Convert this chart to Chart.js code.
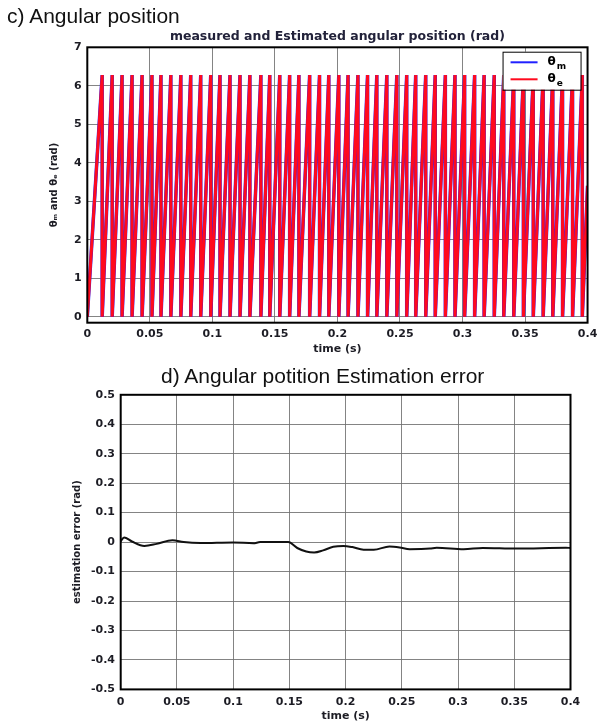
<!DOCTYPE html>
<html>
<head>
<meta charset="utf-8">
<script src="https://cdn.jsdelivr.net/npm/chart.js@4"></script>
<style>
  body{margin:0;background:#fff;width:602px;height:724px;position:relative;overflow:hidden;font-family:"Liberation Sans",Arial,sans-serif;}
  canvas{position:absolute;left:0;}
  #cTop{top:0}
  #cBot{top:360px}
  .panel{position:absolute;font-size:21px;line-height:21px;color:#111;white-space:nowrap;z-index:2}
</style>
</head>
<body>
<div class="panel" style="left:7px;top:5px">c) Angular position</div>
<canvas id="cTop" width="602" height="360"></canvas>
<div class="panel" style="left:161px;top:365px">d) Angular potition Estimation error</div>
<canvas id="cBot" width="602" height="364"></canvas>
<script>
const timeTicks = [0, 0.05, 0.1, 0.15, 0.2, 0.25, 0.3, 0.35, 0.4];
const thetaTicks = [0, 1, 2, 3, 4, 5, 6, 7];
const errTicks = [-0.5, -0.4, -0.3, -0.2, -0.1, 0, 0.1, 0.2, 0.3, 0.4, 0.5];

/* c) instants where the angle wraps from 2pi back to 0 (s) */
const wrapTimes = [0.0119, 0.0199, 0.0278, 0.0358, 0.0438, 0.0517, 0.0589, 0.0668, 0.0748, 0.0827,
  0.0907, 0.0987, 0.1061, 0.1141, 0.1221, 0.1300, 0.1388, 0.1459, 0.1539, 0.1618,
  0.1692, 0.1778, 0.1857, 0.1931, 0.2011, 0.2085, 0.2164, 0.2241, 0.2315, 0.2395,
  0.2475, 0.2554, 0.2626, 0.2706, 0.2782, 0.2863, 0.2940, 0.3017, 0.3097, 0.3173,
  0.3254, 0.3330, 0.3410, 0.3487, 0.3566, 0.3645, 0.3722, 0.3800, 0.3880, 0.3958];
const thetaMax = 6.28;   // peak before each wrap (rad)
const thetaEnd = 3.4;    // value at t = 0.4 s
const legendNames = ["θm", "θe"];

/* d) estimation error */
const errT = [0, 0.003, 0.010, 0.021, 0.032, 0.046, 0.056, 0.071, 0.100, 0.118, 0.124, 0.149,
  0.157, 0.165, 0.172, 0.180, 0.189, 0.198, 0.206, 0.216, 0.225, 0.239, 0.248, 0.257,
  0.275, 0.281, 0.305, 0.322, 0.352, 0.396, 0.4];
const errV = [0.003, 0.016, 0.002, -0.013, -0.006, 0.006, 0.000, -0.003, -0.001, -0.004, 0.000, 0.000,
  -0.020, -0.032, -0.035, -0.028, -0.016, -0.013, -0.017, -0.026, -0.026, -0.015, -0.018, -0.024,
  -0.022, -0.019, -0.024, -0.020, -0.022, -0.019, -0.020];

const FAM = '"DejaVu Sans", sans-serif';
const tickFont = {family:FAM, size:11, weight:'bold'};
const titleFont = {family:FAM, size:10, weight:'bold'};
const INK = '#1c1c24';
const GRID = 'rgba(110,110,110,0.85)';

function sawPoints(){
  const pts = [{x:0, y:0}];
  wrapTimes.forEach(w=>{
    pts.push({x:w, y:thetaMax});
    pts.push({x:w, y:0});
  });
  pts.push({x:0.4, y:thetaEnd});
  return pts;
}

const boxPlugin = {
  id:'box',
  afterDraw(chart){
    const {ctx, chartArea:a} = chart;
    ctx.save();
    ctx.strokeStyle = '#000';
    ctx.lineWidth = 2;
    ctx.strokeRect(a.left, a.top, a.right-a.left, a.bottom-a.top);
    ctx.restore();
  }
};

const legendPlugin = {
  id:'boxLegend',
  afterDraw(chart){
    const {ctx, chartArea:a} = chart;
    const w = 78, h = 38, x0 = a.right-85, y0 = a.top+4.4;
    ctx.save();
    ctx.fillStyle = '#fff';
    ctx.fillRect(x0, y0, w, h);
    ctx.strokeStyle = '#000';
    ctx.lineWidth = 1;
    ctx.strokeRect(x0+0.5, y0+0.5, w, h);
    chart.data.datasets.forEach((ds,i)=>{
      const y = y0 + 10.6 + i*17;
      ctx.strokeStyle = ds.borderColor;
      ctx.lineWidth = 2;
      ctx.beginPath(); ctx.moveTo(x0+8, y); ctx.lineTo(x0+35, y); ctx.stroke();
      ctx.fillStyle = '#000';
      ctx.textBaseline = 'middle';
      ctx.font = 'bold 12px ' + FAM;
      ctx.fillText(ds.label[0], x0+45, y);
      const tw = ctx.measureText(ds.label[0]).width;
      ctx.font = 'bold 9px ' + FAM;
      ctx.fillText(ds.label.slice(1), x0+45+tw+1, y+4);
    });
    ctx.restore();
  }
};

function xScale(h, pad, titlePad){
  return {
    type:'linear', min:0, max:0.4,
    afterBuildTicks: s=>{ s.ticks = timeTicks.map(v=>({value:v})); },
    afterFit: s=>{ s.height = h; },
    ticks:{padding:pad, font:tickFont, color:INK, callback:v=>String(v)},
    grid:{color:GRID, lineWidth:1, drawTicks:false},
    border:{display:false},
    title:{display:true, text:'time (s)', font:{family:FAM, size:11, weight:'bold'}, color:INK, padding:{top:0, bottom:titlePad}}
  };
}

function yScale(min, max, ticks, w, pad, title, titlePad){
  return {
    min:min, max:max,
    afterBuildTicks: s=>{ s.ticks = ticks.map(v=>({value:v})); },
    afterFit: s=>{ s.width = w; },
    ticks:{padding:pad, font:tickFont, color:INK, callback:v=>String(v)},
    grid:{color:GRID, lineWidth:1, drawTicks:false},
    border:{display:false},
    title:{display:true, text:title, font:titleFont, color:INK, padding:{top:titlePad, bottom:0}}
  };
}

new Chart(document.getElementById('cTop'), {
  type:'line',
  data:{
    datasets:[
      {label:legendNames[0], data:sawPoints(), borderColor:'#2020ff', borderWidth:3.5, order:2},
      {label:legendNames[1], data:sawPoints(), borderColor:'#ff0a1e', borderWidth:3, order:1}
    ]
  },
  options:{
    responsive:false, animation:false,
    layout:{padding:{left:0, right:12, top:0, bottom:0}},
    elements:{point:{radius:0}, line:{tension:0}},
    plugins:{
      legend:{display:false}, tooltip:{enabled:false},
      title:{display:true, fullSize:false, text:'measured and Estimated angular position (rad)',
        color:'#22223a', font:{family:FAM, size:12.5, weight:'bold'}, padding:{top:29, bottom:3.3}}
    },
    scales:{
      x:xScale(37.3, 4.7, 4.4),
      y:yScale(-0.153, 7, thetaTicks, 87.3, 5.6, 'θₘ and θₑ (rad)', 48)
    }
  },
  plugins:[boxPlugin, legendPlugin]
});

new Chart(document.getElementById('cBot'), {
  type:'line',
  data:{
    datasets:[
      {label:'error', data:errT.map((t,i)=>({x:t, y:errV[i]})), borderColor:'#111',
       borderWidth:2, tension:0.4, cubicInterpolationMode:'monotone'}
    ]
  },
  options:{
    responsive:false, animation:false,
    layout:{padding:{left:0, right:31.5, top:34.8, bottom:0}},
    elements:{point:{radius:0}},
    plugins:{legend:{display:false}, tooltip:{enabled:false}},
    scales:{
      x:xScale(34.6, 5.7, 0.9),
      y:yScale(-0.5, 0.5, errTicks, 120.7, 5.7, 'estimation error (rad)', 71.5)
    }
  },
  plugins:[boxPlugin]
});
</script>
</body>
</html>
